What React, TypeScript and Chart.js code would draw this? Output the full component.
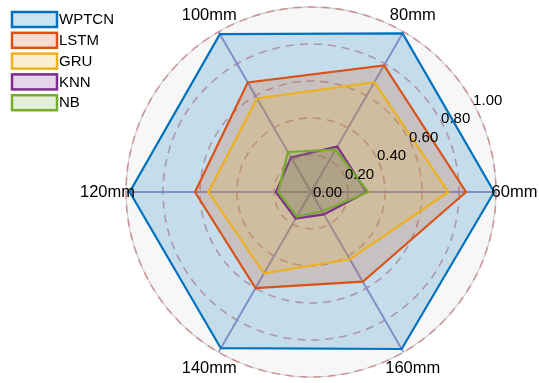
import { useEffect, useRef } from "react";
import { Chart, registerables } from "chart.js";

Chart.register(...registerables);

// Spoke categories, counter-clockwise from the right-hand axis
const categories = ["60mm", "80mm", "100mm", "120mm", "140mm", "160mm"];

const seriesNames = ["WPTCN", "LSTM", "GRU", "KNN", "NB"];
const wptcn = [0.99, 0.99, 0.985, 0.98, 0.975, 0.98];
const lstm = [0.838, 0.79, 0.684, 0.627, 0.6, 0.56];
const gru = [0.742, 0.686, 0.584, 0.555, 0.508, 0.42];
const knn = [0.3, 0.284, 0.216, 0.19, 0.166, 0.14];
const nb = [0.31, 0.264, 0.25, 0.177, 0.153, 0.12];

const tickValues = [0, 0.2, 0.4, 0.6, 0.8, 1.0];

const lineColors = ["#0072BD", "#D95319", "#EDB120", "#7E2F8E", "#77AC30"];
const fillColors = [
  "rgba(0,114,189,0.2)",
  "rgba(217,83,25,0.2)",
  "rgba(237,177,32,0.2)",
  "rgba(126,47,142,0.2)",
  "rgba(119,172,48,0.2)",
];

const FONT = "'Liberation Sans', Arial, Helvetica, sans-serif";

// Chart.js lays spokes out clockwise; reorder so the series read counter-clockwise
const clockwise = [0, 5, 4, 3, 2, 1];
const reorder = <T,>(arr: T[]) => clockwise.map((i) => arr[i]);

const overlayPlugin = {
  id: "radarOverlay",
  beforeDatasetsDraw(chart: any) {
    const s = chart.scales.r;
    const ctx = chart.ctx;
    const R = s.getDistanceFromCenterForValue(1);
    ctx.save();
    ctx.beginPath();
    ctx.arc(s.xCenter, s.yCenter, R, 0, Math.PI * 2);
    ctx.strokeStyle = "#d2d2d2";
    ctx.lineWidth = 1.3;
    ctx.stroke();
    ctx.beginPath();
    ctx.arc(s.xCenter, s.yCenter, R, 0, Math.PI * 2);
    ctx.setLineDash([8, 6]);
    ctx.strokeStyle = "rgba(195,105,105,0.6)";
    ctx.lineWidth = 1.6;
    ctx.stroke();
    ctx.restore();
  },
  afterDraw(chart: any) {
    const s = chart.scales.r;
    const ctx = chart.ctx;
    ctx.save();
    ctx.fillStyle = "#000";

    // radial tick labels along the 30° direction
    ctx.font = `15px ${FONT}`;
    ctx.textAlign = "center";
    ctx.textBaseline = "middle";
    const a = Math.PI / 6;
    tickValues.forEach((v) => {
      const d = s.getDistanceFromCenterForValue(v);
      ctx.fillText(v.toFixed(2), s.xCenter + d * Math.cos(a) + 16.5, s.yCenter - d * Math.sin(a) + 1);
    });

    // spoke labels
    ctx.font = `16.5px ${FONT}`;
    const labels: string[] = chart.data.labels;
    labels.forEach((lab, i) => {
      const p = s.getPointPosition(i, s.drawingArea * 1.1);
      ctx.fillText(lab, p.x, p.y);
    });

    // legend
    ctx.font = `15px ${FONT}`;
    ctx.textAlign = "left";
    seriesNames.forEach((name, i) => {
      const y = 12 + i * 20.8;
      ctx.fillStyle = "#fff";
      ctx.fillRect(12, y, 45, 15);
      ctx.fillStyle = fillColors[i];
      ctx.fillRect(12, y, 45, 15);
      ctx.strokeStyle = lineColors[i];
      ctx.lineWidth = 2.5;
      ctx.strokeRect(12, y, 45, 15);
      ctx.fillStyle = "#000";
      ctx.fillText(name, 59, y + 8);
    });
    ctx.restore();
  },
};

export default function App() {
  const ref = useRef<HTMLCanvasElement>(null);

  useEffect(() => {
    const series = [wptcn, lstm, gru, knn, nb];
    const chart = new Chart(ref.current!, {
      type: "radar",
      data: {
        labels: reorder(categories),
        datasets: series.map((vals, i) => ({
          label: seriesNames[i],
          data: reorder(vals),
          borderColor: lineColors[i],
          backgroundColor: fillColors[i],
          borderWidth: 2.2,
          borderJoinStyle: "miter" as const,
          fill: true,
          pointRadius: 0,
          pointHoverRadius: 0,
          order: series.length - i,
        })),
      },
      options: {
        responsive: false,
        maintainAspectRatio: false,
        animation: false,
        layout: { padding: { left: 126, right: 43, top: 7, bottom: 6 } },
        plugins: { legend: { display: false }, tooltip: { enabled: false } },
        scales: {
          r: {
            min: 0,
            max: 1,
            startAngle: 90,
            backgroundColor: "#f7f7f7",
            ticks: { display: false, stepSize: 0.2 },
            grid: {
              circular: true,
              color: (c: any) => (c.tick && c.tick.value >= 1 ? "transparent" : "rgba(195,105,105,0.6)"),
              lineWidth: 1.6,
            },
            border: { dash: [8, 6] },
            angleLines: { color: "rgb(158,152,205)", lineWidth: 2 },
            pointLabels: { display: false },
          },
        },
      },
      plugins: [overlayPlugin],
    });
    return () => chart.destroy();
  }, []);

  return (
    <div style={{ position: "fixed", left: 0, top: 0, width: 539, height: 383, background: "#fff" }}>
      <canvas ref={ref} width={539} height={383} style={{ width: 539, height: 383, display: "block" }} />
    </div>
  );
}
